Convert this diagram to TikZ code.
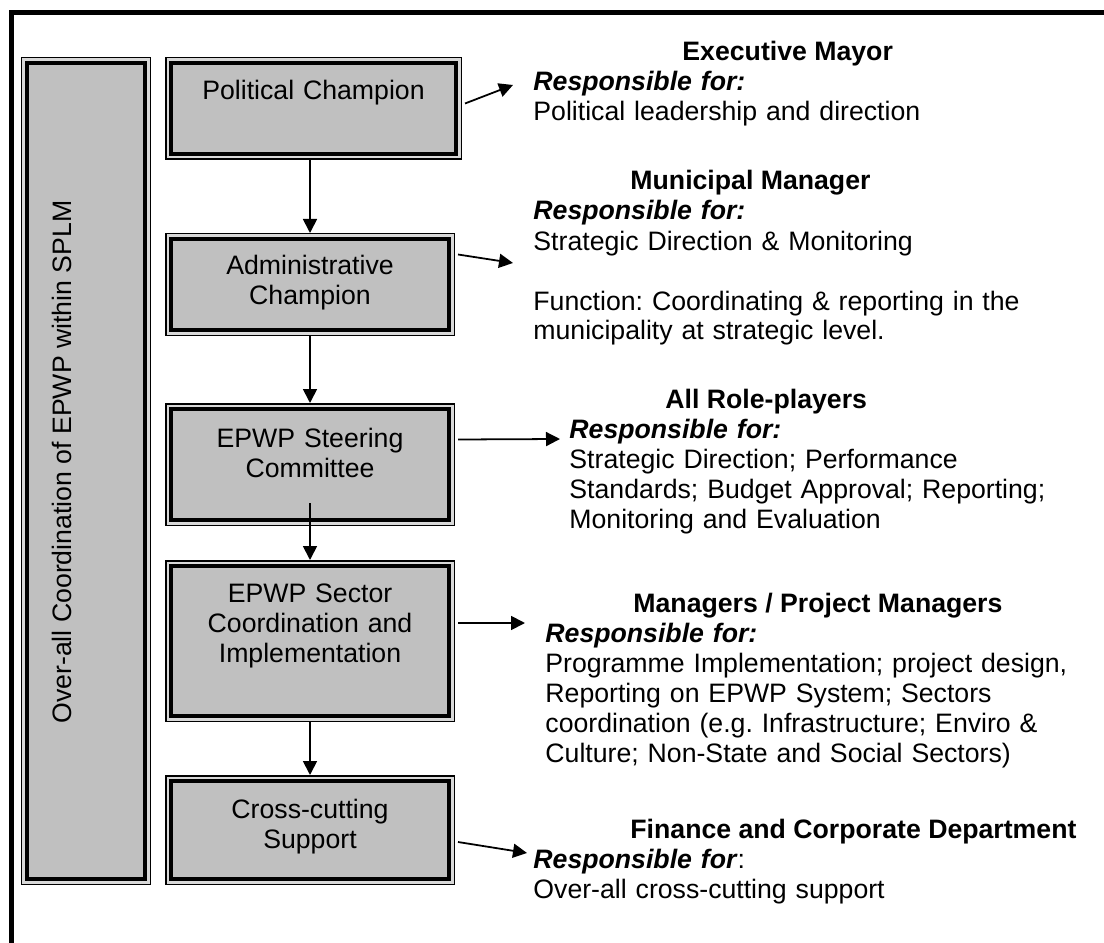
\documentclass[tikz,border=0pt]{standalone}
\usepackage{fontspec}
\setmainfont{Liberation Sans}
\usepackage{xcolor}
\usetikzlibrary{arrows.meta}
\frenchspacing

\definecolor{cajagris}{HTML}{C0C0C0}
\definecolor{huecogris}{HTML}{D8D8D8}

\begin{document}
\begin{tikzpicture}[x=0.45pt,y=-0.45pt,
    font=\fontsize{12}{13.5}\selectfont,
    caja/.style={rectangle, inner sep=0pt, outer sep=2.7pt, fill=cajagris,
        draw=black, line width=1.8pt,
        preaction={draw=black, line width=5.4pt},
        preaction={draw=huecogris, line width=4.05pt}},
    textocaja/.style={anchor=base, align=center, text width=120pt, inner sep=0pt},
    cuerpo/.style={anchor=base west, align=left, text width=270pt, inner sep=0pt},
    titulo/.style={anchor=base west, inner sep=0pt, font=\fontsize{12}{13.5}\selectfont\bfseries},
    flecha/.style={line width=0.8pt, -{Triangle[length=6.3pt,width=6.3pt]}}]

    \useasboundingbox (0,0) rectangle (1104,943);

    % marco exterior
    \draw[line width=2.25pt] (11,12.5) rectangle (1130,970);

    % caja lateral
    \node[caja, minimum width=53.1pt, minimum height=367.2pt] (lead) at (86,471) {};
    \node[rotate=90, inner sep=0pt] (leadTxt) at (62,462) {Over-all Coordination of EPWP within SPLM};

    % cajas de la columna
    \node[caja, minimum width=128.25pt, minimum height=40.95pt] (pol) at (313.5,108.5) {};
    \node[caja, minimum width=125.1pt, minimum height=40.95pt] (adm) at (310,284.5) {};
    \node[caja, minimum width=125.1pt, minimum height=49.95pt] (steer) at (310,464.5) {};
    \node[caja, minimum width=125.1pt, minimum height=67.5pt] (sect) at (310,641) {};
    \node[caja, minimum width=125.1pt, minimum height=44.1pt] (cross) at (310,830) {};

    % textos de las cajas
    \node[textocaja] (polTxt) at ([shift={(0,43)}]pol.north) {Political Champion};
    \node[textocaja] (admTxt) at ([shift={(0,42)}]adm.north) {Administrative\\ Champion};
    \node[textocaja] (steerTxt) at ([shift={(0,44)}]steer.north) {EPWP Steering\\ Committee};
    \node[textocaja] (sectTxt) at ([shift={(0,42)}]sect.north) {EPWP Sector\\ Coordination and\\ Implementation};
    \node[textocaja] (crossTxt) at ([shift={(0,43)}]cross.north) {Cross-cutting\\ Support};

    % flechas verticales
    \draw[flecha] (pol.south -| adm) -- (adm.north);
    \draw[flecha] (adm.south) -- (steer.north);
    \draw[flecha] ([shift={(0,-23)}]steer.south) -- (sect.north);
    \draw[flecha] (sect.south) -- (cross.north);

    % puntas de las flechas laterales
    \coordinate (polTip) at (513,85);
    \coordinate (admTip) at (513,263);
    \coordinate (steerTip) at (560,439);
    \coordinate (sectTip) at (525,623);
    \coordinate (crossTip) at (527,853);

    \draw[flecha] ([shift={(3,-5)}]pol.east) -- (polTip);
    \draw[flecha] ([shift={(3,-30)}]adm.east) -- (admTip);
    \draw[flecha] ([shift={(3,-25)}]steer.east) -- (steerTip);
    \draw[flecha] ([shift={(3,-18)}]sect.east) -- (sectTip);
    \draw[flecha] ([shift={(3,12)}]cross.east) -- (crossTip);

    % responsables
    \node[titulo] (mayorHd) at (682,61) {Executive Mayor};
    \node[cuerpo] (mayorTx) at (533,91) {\textbf{\textit{Responsible for:}}\\
        Political leadership and direction};

    \node[titulo] (mmHd) at (630,190) {Municipal Manager};
    \node[cuerpo] (mmTx) at (533,220) {\textbf{\textit{Responsible for:}}\\
        Strategic Direction \& Monitoring\\[13.5pt]
        Function: Coordinating \& reporting in the\\
        municipality at strategic level.};

    \node[titulo] (rolesHd) at (665,408) {All Role-players};
    \node[cuerpo] (rolesTx) at (569,438) {\textbf{\textit{Responsible for:}}\\
        Strategic Direction; Performance\\
        Standards; Budget Approval; Reporting;\\
        Monitoring and Evaluation};

    \node[titulo] (pmHd) at (633,612) {Managers / Project Managers};
    \node[cuerpo] (pmTx) at (545,642) {\textbf{\textit{Responsible for:}}\\
        Programme Implementation; project design,\\
        Reporting on EPWP System; Sectors\\
        coordination (e.g. Infrastructure; Enviro \&\\
        Culture; Non-State and Social Sectors)};

    \node[titulo] (finHd) at (630,838) {Finance and Corporate Department};
    \node[cuerpo] (finTx) at (533,868) {\textbf{\textit{Responsible for}}:\\
        Over-all cross-cutting support};

\end{tikzpicture}
\end{document}
